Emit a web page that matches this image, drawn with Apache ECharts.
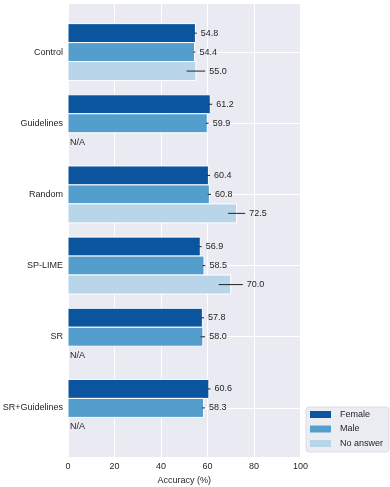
<!DOCTYPE html>
<html>
<head>
<meta charset="utf-8">
<script src="https://cdn.jsdelivr.net/npm/echarts@6/dist/echarts.min.js"></script>
<style>
  html, body { margin: 0; padding: 0; background: #fff; }
  #chart { width: 390px; height: 487px; }
</style>
</head>
<body>
<div id="chart"></div>
<script>
// data
var categories = ['Control', 'Guidelines', 'Random', 'SP-LIME', 'SR', 'SR+Guidelines'];
var seriesNames = ['Female', 'Male', 'No answer'];
var female = [54.8, 61.2, 60.4, 56.9, 57.8, 60.6];
var male = [54.4, 59.9, 60.8, 58.5, 58.0, 58.3];
var noAnswer = [55.0, null, 72.5, 70.0, null, null];
var femaleErr = [0.6, 0.8, 0.7, 0.6, 0.7, 0.7];
var maleErr = [0.4, 0.6, 0.7, 0.6, 1.0, 0.6];
var noAnswerErr = [4.0, null, 3.7, 5.2, null, null];
var xTicks = [0, 20, 40, 60, 80, 100];

var colors = ['#0b559f', '#539ecd', '#b8d5ea'];
var textColor = '#262626';
var fontFamily = '"Liberation Sans", Arial, sans-serif';
var fontSize = 9;
var barH = 0.8 / 3;

function makeData(vals, errs) {
  var out = [];
  for (var i = 0; i < categories.length; i++) {
    out.push([vals[i], i, errs[i]]);
  }
  return out;
}

function makeRender(k) {
  var off = (k - 1) * barH;
  return function (params, api) {
    var v = api.value(0);
    var c = api.value(1);
    var e = api.value(2);
    var mid = c + off;
    if (isNaN(v) || v === null) {
      // no bar for this group
      var pn = api.coord([0, mid]);
      return {
        type: 'text',
        style: {
          x: pn[0] + 2, y: pn[1],
          text: 'N/A',
          fill: textColor,
          font: fontSize + 'px ' + fontFamily,
          verticalAlign: 'middle',
          align: 'left'
        }
      };
    }
    var p0 = api.coord([0, mid - barH / 2]);
    var p1 = api.coord([v, mid + barH / 2]);
    var e0 = api.coord([v - e, mid]);
    var e1 = api.coord([v + e, mid]);
    return {
      type: 'group',
      children: [
        {
          type: 'rect',
          shape: { x: p0[0], y: p0[1], width: p1[0] - p0[0], height: p1[1] - p0[1] },
          style: { fill: colors[k], stroke: '#ffffff', lineWidth: 1 }
        },
        {
          type: 'line',
          shape: { x1: e0[0], y1: e0[1], x2: e1[0], y2: e1[1] },
          style: { stroke: '#333333', lineWidth: 1.1 }
        },
        {
          type: 'text',
          style: {
            x: e1[0] + 4, y: e1[1],
            text: v.toFixed(1),
            fill: textColor,
            font: fontSize + 'px ' + fontFamily,
            verticalAlign: 'middle',
            align: 'left'
          }
        }
      ]
    };
  };
}

var chart = echarts.init(document.getElementById('chart'));

var option = {
  animation: false,
  textStyle: { fontFamily: fontFamily },
  grid: {
    left: 68,
    right: 89.5,
    top: 3,
    bottom: 30,
    outerBoundsMode: 'none',
    show: true,
    backgroundColor: '#eaeaf2',
    borderWidth: 0
  },
  legend: {
    data: seriesNames,
    orient: 'vertical',
    left: 306,
    top: 407,
    itemWidth: 21,
    itemHeight: 7,
    itemGap: 3.5,
    icon: 'rect',
    padding: [2, 6, 3, 4],
    backgroundColor: 'rgba(234,234,242,0.9)',
    borderColor: '#dcdce6',
    borderWidth: 1,
    borderRadius: 3,
    textStyle: { color: textColor, fontSize: fontSize, lineHeight: 11, fontFamily: fontFamily, padding: [0, 0, 0, 4] }
  },
  xAxis: {
    type: 'value',
    min: 0,
    max: 100,
    interval: 20,
    name: 'Accuracy (%)',
    nameLocation: 'middle',
    nameGap: 17,
    nameTextStyle: { color: textColor, fontSize: fontSize, fontFamily: fontFamily },
    axisLine: { show: false },
    axisTick: { show: false },
    axisLabel: {
      color: textColor, fontSize: fontSize, fontFamily: fontFamily, margin: 5,
      formatter: function (v) { return xTicks.indexOf(v) >= 0 ? String(v) : ''; }
    },
    splitLine: { show: true, lineStyle: { color: '#ffffff', width: 1 } }
  },
  yAxis: {
    type: 'value',
    inverse: true,
    min: -0.69,
    max: 5.69,
    minInterval: 1,
    maxInterval: 1,
    axisLine: { show: false },
    axisTick: { show: false },
    axisLabel: {
      color: textColor, fontSize: fontSize, fontFamily: fontFamily, margin: 5,
      formatter: function (v) {
        return (Math.abs(v - Math.round(v)) < 1e-6 && categories[Math.round(v)]) ? categories[Math.round(v)] : '';
      }
    },
    splitLine: { show: true, lineStyle: { color: '#ffffff', width: 1 } }
  },
  series: [
    {
      name: 'Female', type: 'custom', itemStyle: { color: colors[0] },
      renderItem: makeRender(0), encode: { x: 0, y: 1 },
      data: makeData(female, femaleErr)
    },
    {
      name: 'Male', type: 'custom', itemStyle: { color: colors[1] },
      renderItem: makeRender(1), encode: { x: 0, y: 1 },
      data: makeData(male, maleErr)
    },
    {
      name: 'No answer', type: 'custom', itemStyle: { color: colors[2] },
      renderItem: makeRender(2), encode: { x: 0, y: 1 },
      data: makeData(noAnswer, noAnswerErr)
    }
  ]
};

chart.setOption(option);
</script>
</body>
</html>
